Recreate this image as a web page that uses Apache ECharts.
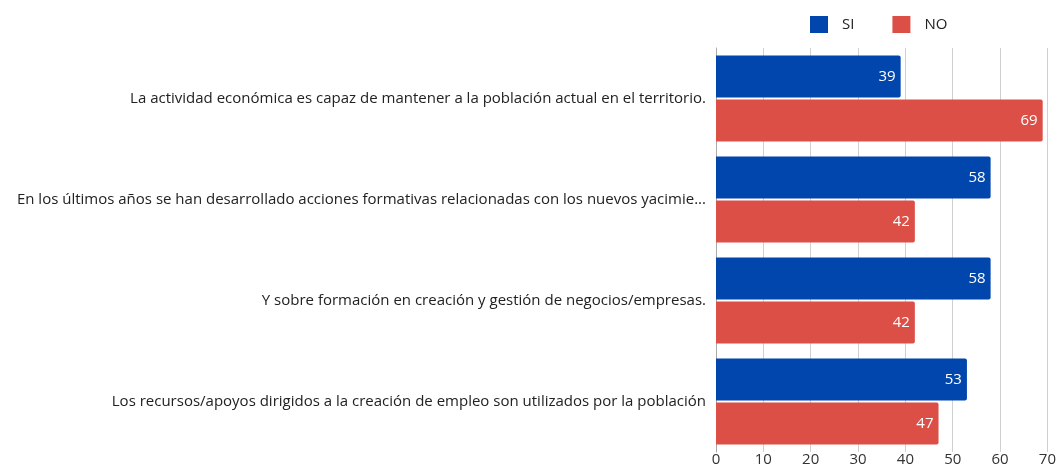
<!DOCTYPE html>
<html>
<head>
<meta charset="utf-8">
<style>
  html, body { margin: 0; padding: 0; background: #fff; }
  #chart { width: 1059px; height: 468px; }
</style>
<script src="https://cdn.jsdelivr.net/npm/echarts@6/dist/echarts.min.js"></script>
</head>
<body>
<div id="chart"></div>
<script>
// categories, top to bottom
const categories = [
  'La actividad económica es capaz de mantener a la población actual en el territorio.',
  'En los últimos años se han desarrollado acciones formativas relacionadas con los nuevos yacimie...',
  'Y sobre formación en creación y gestión de negocios/empresas.',
  'Los recursos/apoyos dirigidos a la creación de empleo son utilizados por la población'
];
const siValues = [39, 58, 58, 53];
const noValues = [69, 42, 42, 47];
const xTicks = [0, 10, 20, 30, 40, 50, 60, 70];

const FONT = '"Open Sans", sans-serif';
const chart = echarts.init(document.getElementById('chart'));

const barLabel = {
  show: true,
  position: 'insideRight',
  distance: 5,
  color: '#fff',
  fontFamily: FONT,
  fontSize: 15
};

chart.setOption({
  animation: false,
  legend: {
    left: 805,
    top: 11,
    itemWidth: 18,
    itemHeight: 17,
    itemGap: 38,
    icon: 'rect',
    textStyle: { fontFamily: FONT, fontSize: 15, color: '#222', padding: [0, 0, 0, 9] },
    data: ['SI', 'NO']
  },
  grid: { left: 716, right: 11, top: 48, bottom: 16, containLabel: false },
  xAxis: {
    type: 'value',
    min: xTicks[0],
    max: xTicks[xTicks.length - 1],
    interval: 10,
    axisLine: { show: false },
    axisTick: { show: false },
    axisLabel: { fontFamily: FONT, fontSize: 15, color: '#333', margin: 0 },
    splitLine: { lineStyle: { color: '#d0d0d0', width: 1 } }
  },
  yAxis: {
    type: 'category',
    inverse: true,
    data: categories,
    axisLine: { show: true, lineStyle: { color: '#aaa' } },
    axisTick: { show: false },
    axisLabel: { fontFamily: FONT, fontSize: 15, color: '#222', margin: 10 }
  },
  series: [
    {
      name: 'SI',
      type: 'bar',
      data: siValues,
      barWidth: 42,
      barGap: '5%',
      itemStyle: { color: '#0046ad', borderRadius: [0, 2, 2, 0] },
      label: barLabel
    },
    {
      name: 'NO',
      type: 'bar',
      data: noValues,
      barWidth: 42,
      barGap: '5%',
      itemStyle: { color: '#dc4f46', borderRadius: [0, 2, 2, 0] },
      label: barLabel
    }
  ]
});
</script>
</body>
</html>
